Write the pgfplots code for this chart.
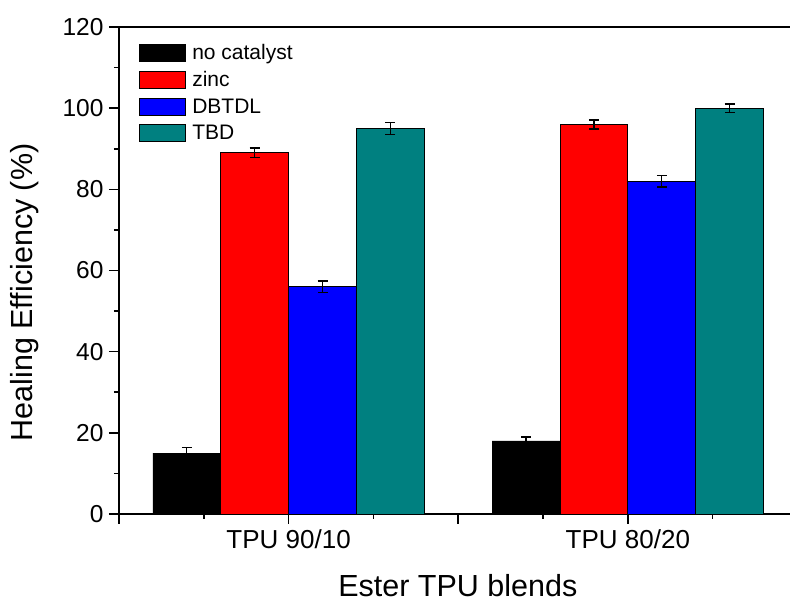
\documentclass[border=0pt]{standalone}
\usepackage{pgfplots}
\pgfplotsset{compat=1.18}
\usepackage{fontspec}
\setmainfont{Liberation Sans}

\definecolor{zincred}{RGB}{255,0,0}
\definecolor{dbtblue}{RGB}{0,0,255}
\definecolor{tbdteal}{RGB}{0,128,128}

\pgfplotsset{
  healbar/.style={ybar, bar width=0.2, bar shift=0, draw=black, line width=0.8pt,
    error bars/y dir=both, error bars/y explicit,
    error bars/error bar style={line width=1.3pt, black},
    error bars/error mark options={rotate=90, mark size=5pt, line width=1.3pt, black}},
}

\begin{document}
\begin{tikzpicture}
\begin{axis}[
  scale only axis,
  width=671pt, height=487pt,
  xmin=0.5, xmax=2.478,
  ymin=0, ymax=120,
  axis x line*=box,
  axis y line*=left,
  axis line style={line width=1.6pt},
  tick align=outside,
  xtick pos=bottom, ytick pos=left,
  xtick={0.5,1,1.5,2,2.5},
  xticklabels={,TPU 90/10,,TPU 80/20,},
  minor xtick={0.75,1.25,1.75,2.25},
  ytick={0,20,40,60,80,100,120},
  minor ytick={10,30,50,70,90,110},
  major tick length=10pt,
  minor tick length=5pt,
  major tick style={line width=1.6pt, black},
  minor tick style={line width=1.6pt, black},
  /pgf/number format/assume math mode=true,
  x tick label style={font=\fontsize{26}{26}\selectfont, yshift=-2pt},
  y tick label style={font=\fontsize{24.5}{24.5}\selectfont, xshift=-2pt},
  xlabel={Ester TPU blends},
  ylabel={Healing Efficiency (\%)},
  every axis x label/.style={at={(rel axis cs:0.505,0)}, yshift=-72pt, anchor=center, font=\fontsize{30.5}{30.5}\selectfont},
  every axis y label/.style={at={(rel axis cs:0,0.455)}, xshift=-94pt, rotate=90, anchor=center, font=\fontsize{30.5}{30.5}\selectfont},
  legend style={at={(rel axis cs:0.025,0.972)}, anchor=north west, draw=none, fill=none,
    font=\fontsize{21}{21}\selectfont, row sep=7.5pt,
    nodes={inner sep=1.5pt},
    /tikz/every odd column/.append style={column sep=5pt}},
  legend cell align=left,
  legend image code/.code={\draw[#1, draw=black, line width=0.8pt] (0pt,-8.5pt) rectangle (46pt,8.5pt);},
]
% No catalyst
\addplot[healbar, fill=black] coordinates {(0.7,15) +- (0,1.3) (1.7,18) +- (0,1.0)};
% Zinc
\addplot[healbar, fill=zincred] coordinates {(0.9,89) +- (0,1.2) (1.9,96) +- (0,1.1)};
% DBTDL
\addplot[healbar, fill=dbtblue] coordinates {(1.1,56) +- (0,1.4) (2.1,82) +- (0,1.4)};
% TBD
\addplot[healbar, fill=tbdteal] coordinates {(1.3,95) +- (0,1.5) (2.3,100) +- (0,1.0)};
\legend{no catalyst, zinc, DBTDL, TBD}
\coordinate (bl) at (rel axis cs:0,0);
\coordinate (tr) at (rel axis cs:1,1);
\end{axis}
\pgfresetboundingbox
\path[use as bounding box] ([xshift=-119pt,yshift=-90pt]bl) rectangle ([yshift=27pt]tr);
\end{tikzpicture}
\end{document}
